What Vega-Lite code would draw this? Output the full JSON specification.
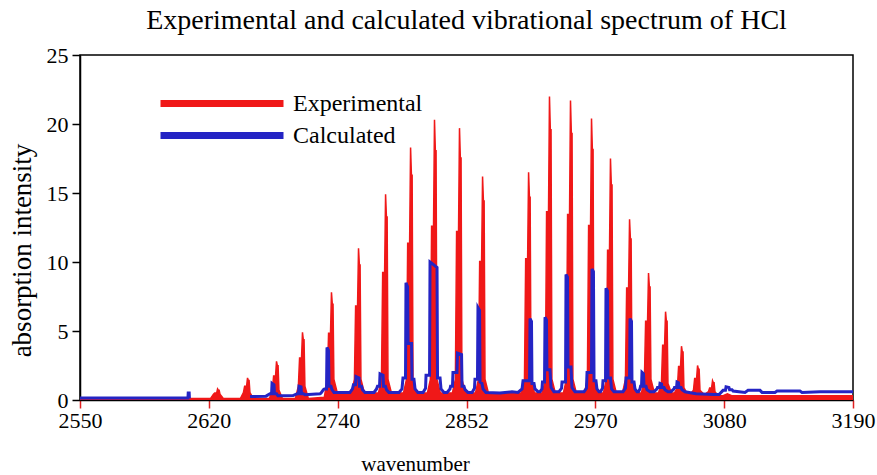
{
"$schema": "https://vega.github.io/schema/vega-lite/v6.json",
"width": 773,
"height": 345,
"autosize": {"type": "none"},
"padding": {"left": 80, "top": 55, "right": 24, "bottom": 75},
"background": "#ffffff",
"title": {"text": "Experimental and calculated vibrational spectrum of HCl", "font": "Liberation Serif", "fontSize": 28, "fontWeight": "normal", "color": "#000000", "anchor": "middle", "frame": "group", "offset": 9},
"config": {
  "font": "Liberation Serif",
  "view": {"stroke": "#000000", "strokeWidth": 1.5},
  "axis": {"grid": false, "labelFont": "Liberation Serif", "titleFont": "Liberation Serif", "labelColor": "#000000", "titleColor": "#000000", "titleFontWeight": "normal", "domainColor": "#000000", "domainWidth": 1.5}
},
"datasets": {
"exp": [
{"x":2550,"y":0.1},{"x":2640,"y":0.1},
{"x":2658.0,"y":0.1},{"x":2660.5,"y":0.42},{"x":2661.5,"y":0.5},{"x":2663.1,"y":0.5},{"x":2663.9,"y":0.8},{"x":2664.6,"y":0.71},{"x":2665.2,"y":0.71},{"x":2665.9,"y":0.42},{"x":2668.8,"y":0.1},
{"x":2682.8,"y":0.1},{"x":2685.3,"y":0.54},{"x":2686.3,"y":0.99},{"x":2687.9,"y":0.99},{"x":2688.7,"y":1.6},{"x":2689.4,"y":1.42},{"x":2690.0,"y":1.42},{"x":2690.7,"y":0.54},{"x":2693.6,"y":0.1},
{"x":2706.8,"y":0.1},{"x":2709.3,"y":0.72},{"x":2710.3,"y":1.74},{"x":2711.9,"y":1.74},{"x":2712.7,"y":2.8},{"x":2713.4,"y":2.49},{"x":2714.0,"y":2.49},{"x":2714.7,"y":0.72},{"x":2717.6,"y":0.1},
{"x":2728.3,"y":0.1},{"x":2730.8,"y":1.0},{"x":2731.8,"y":3.04},{"x":2733.4,"y":3.04},{"x":2734.2,"y":4.9},{"x":2734.9,"y":4.36},{"x":2735.5,"y":4.36},{"x":2736.2,"y":1.0},{"x":2739.1,"y":0.1},
{"x":2752.3,"y":0.2},{"x":2754.8,"y":1.5},{"x":2755.8,"y":4.84},{"x":2757.4,"y":4.84},{"x":2758.2,"y":7.8},{"x":2758.9,"y":6.94},{"x":2759.5,"y":6.94},{"x":2760.2,"y":1.5},{"x":2763.1,"y":0.5},
{"x":2774.7,"y":0.5},{"x":2777.2,"y":1.5},{"x":2778.2,"y":6.82},{"x":2779.8,"y":6.82},{"x":2780.6,"y":11.0},{"x":2781.3,"y":9.79},{"x":2781.9,"y":9.79},{"x":2782.6,"y":1.5},{"x":2785.5,"y":0.5},
{"x":2797.1,"y":0.5},{"x":2799.6,"y":1.5},{"x":2800.6,"y":9.24},{"x":2802.2,"y":9.24},{"x":2803.0,"y":14.9},{"x":2803.7,"y":13.26},{"x":2804.3,"y":13.26},{"x":2805.0,"y":1.5},{"x":2807.9,"y":0.5},
{"x":2817.8,"y":0.5},{"x":2820.3,"y":1.5},{"x":2821.3,"y":11.35},{"x":2822.9,"y":11.35},{"x":2823.7,"y":18.3},{"x":2824.4,"y":16.29},{"x":2825.0,"y":16.29},{"x":2825.7,"y":1.5},{"x":2828.6,"y":0.5},
{"x":2837.6,"y":0.5},{"x":2840.1,"y":1.5},{"x":2841.1,"y":12.59},{"x":2842.7,"y":12.59},{"x":2843.5,"y":20.3},{"x":2844.2,"y":18.07},{"x":2844.8,"y":18.07},{"x":2845.5,"y":1.5},{"x":2848.4,"y":0.5},
{"x":2858.3,"y":0.5},{"x":2860.8,"y":1.5},{"x":2861.8,"y":12.21},{"x":2863.4,"y":12.21},{"x":2864.2,"y":19.7},{"x":2864.9,"y":17.53},{"x":2865.5,"y":17.53},{"x":2866.2,"y":1.5},{"x":2869.1,"y":0.5},
{"x":2877.4,"y":0.5},{"x":2879.9,"y":1.5},{"x":2880.9,"y":10.04},{"x":2882.5,"y":10.04},{"x":2883.3,"y":16.2},{"x":2884.0,"y":14.42},{"x":2884.6,"y":14.42},{"x":2885.3,"y":1.5},{"x":2888.2,"y":0.5},
{"x":2915.5,"y":0.5},{"x":2918.0,"y":1.5},{"x":2919.0,"y":10.23},{"x":2920.6,"y":10.23},{"x":2921.4,"y":16.5},{"x":2922.1,"y":14.69},{"x":2922.7,"y":14.69},{"x":2923.4,"y":1.5},{"x":2926.3,"y":0.5},
{"x":2932.8,"y":0.5},{"x":2935.3,"y":1.5},{"x":2936.3,"y":13.64},{"x":2937.9,"y":13.64},{"x":2938.7,"y":22.0},{"x":2939.4,"y":19.58},{"x":2940.0,"y":19.58},{"x":2940.7,"y":1.5},{"x":2943.6,"y":0.5},
{"x":2950.2,"y":0.5},{"x":2952.7,"y":1.5},{"x":2953.7,"y":13.45},{"x":2955.3,"y":13.45},{"x":2956.1,"y":21.7},{"x":2956.8,"y":19.31},{"x":2957.4,"y":19.31},{"x":2958.1,"y":1.5},{"x":2961.0,"y":0.5},
{"x":2967.6,"y":0.5},{"x":2970.1,"y":1.5},{"x":2971.1,"y":12.65},{"x":2972.7,"y":12.65},{"x":2973.5,"y":20.4},{"x":2974.2,"y":18.16},{"x":2974.8,"y":18.16},{"x":2975.5,"y":1.5},{"x":2978.4,"y":0.5},
{"x":2983.3,"y":0.5},{"x":2985.8,"y":1.5},{"x":2986.8,"y":10.85},{"x":2988.4,"y":10.85},{"x":2989.2,"y":17.5},{"x":2989.9,"y":15.58},{"x":2990.5,"y":15.58},{"x":2991.2,"y":1.5},{"x":2994.1,"y":0.5},
{"x":2999.1,"y":0.5},{"x":3001.6,"y":1.5},{"x":3002.6,"y":8.12},{"x":3004.2,"y":8.12},{"x":3005.0,"y":13.1},{"x":3005.7,"y":11.66},{"x":3006.3,"y":11.66},{"x":3007.0,"y":1.5},{"x":3009.9,"y":0.5},
{"x":3014.8,"y":0.5},{"x":3017.3,"y":1.5},{"x":3018.3,"y":5.7},{"x":3019.9,"y":5.7},{"x":3020.7,"y":9.2},{"x":3021.4,"y":8.19},{"x":3022.0,"y":8.19},{"x":3022.7,"y":1.5},{"x":3025.6,"y":0.5},
{"x":3028.9,"y":0.5},{"x":3031.4,"y":1.2},{"x":3032.4,"y":3.97},{"x":3034.0,"y":3.97},{"x":3034.8,"y":6.4},{"x":3035.5,"y":5.7},{"x":3036.1,"y":5.7},{"x":3036.8,"y":1.2},{"x":3039.7,"y":0.5},
{"x":3042.1,"y":0.5},{"x":3044.6,"y":0.9},{"x":3045.6,"y":2.42},{"x":3047.2,"y":2.42},{"x":3048.0,"y":3.9},{"x":3048.7,"y":3.47},{"x":3049.3,"y":3.47},{"x":3050.0,"y":0.9},{"x":3052.9,"y":0.45},
{"x":3055.4,"y":0.45},{"x":3057.9,"y":0.7},{"x":3058.9,"y":1.55},{"x":3060.5,"y":1.55},{"x":3061.3,"y":2.5},{"x":3062.0,"y":2.23},{"x":3062.6,"y":2.23},{"x":3063.3,"y":0.7},{"x":3066.2,"y":0.45},
{"x":3067.8,"y":0.45},{"x":3070.3,"y":0.6},{"x":3071.3,"y":0.87},{"x":3072.9,"y":0.87},{"x":3073.7,"y":1.4},{"x":3074.4,"y":1.25},{"x":3075.0,"y":1.25},{"x":3075.7,"y":0.6},{"x":3078.6,"y":0.3},
{"x":3082.0,"y":0.3},{"x":3086.0,"y":0.45},{"x":3090.0,"y":0.3},{"x":3190,"y":0.3}
],
"calc": [
{"seg":1,"x":2550,"y":0.15},{"seg":1,"x":2639.4,"y":0.15},{"seg":1,"x":2639.6,"y":0.5},{"seg":1,"x":2640.4,"y":0.5},{"seg":1,"x":2640.6,"y":0.12},
{"seg":2,"x":2690.8,"y":0.25},
{"seg":2,"x":2704.0,"y":0.28},{"seg":2,"x":2707.3,"y":0.45},{"seg":2,"x":2708.6,"y":0.45},{"seg":2,"x":2709.0,"y":1.2},{"seg":2,"x":2710.6,"y":1.1},{"seg":2,"x":2711.0,"y":0.45},{"seg":2,"x":2712.7,"y":0.45},{"seg":2,"x":2713.9,"y":0.3},
{"seg":2,"x":2726.4,"y":0.32},{"seg":2,"x":2729.7,"y":0.45},{"seg":2,"x":2730.9,"y":0.45},{"seg":2,"x":2731.3,"y":1.0},{"seg":2,"x":2733.0,"y":0.95},{"seg":2,"x":2733.4,"y":0.45},{"seg":2,"x":2735.0,"y":0.45},{"seg":2,"x":2736.3,"y":0.38},
{"seg":2,"x":2748.7,"y":0.45},
{"seg":2,"x":2749.5,"y":0.5},{"seg":2,"x":2751.6,"y":0.75},{"seg":2,"x":2752.4,"y":0.8},{"seg":2,"x":2754.1,"y":0.8},{"seg":2,"x":2754.5,"y":3.8},{"seg":2,"x":2755.7,"y":3.6},{"seg":2,"x":2756.2,"y":1.0},{"seg":2,"x":2757.8,"y":1.0},{"seg":2,"x":2758.6,"y":0.75},{"seg":2,"x":2760.3,"y":0.55},
{"seg":2,"x":2773.5,"y":0.55},{"seg":2,"x":2775.6,"y":0.8},{"seg":2,"x":2776.4,"y":1.1},{"seg":2,"x":2778.1,"y":1.1},{"seg":2,"x":2778.5,"y":1.7},{"seg":2,"x":2781.0,"y":1.6},{"seg":2,"x":2781.4,"y":1.0},{"seg":2,"x":2783.1,"y":1.0},{"seg":2,"x":2783.9,"y":0.75},{"seg":2,"x":2786.0,"y":0.55},
{"seg":2,"x":2793.4,"y":0.55},{"seg":2,"x":2795.5,"y":0.8},{"seg":2,"x":2796.3,"y":1.0},{"seg":2,"x":2798.0,"y":1.0},{"seg":2,"x":2798.4,"y":1.9},{"seg":2,"x":2800.9,"y":1.8},{"seg":2,"x":2801.3,"y":1.0},{"seg":2,"x":2802.9,"y":1.0},{"seg":2,"x":2803.8,"y":0.75},{"seg":2,"x":2805.8,"y":0.55},
{"seg":2,"x":2814.1,"y":0.55},{"seg":2,"x":2816.6,"y":0.8},{"seg":2,"x":2817.4,"y":1.6},{"seg":2,"x":2819.5,"y":1.6},{"seg":2,"x":2819.9,"y":8.5},{"seg":2,"x":2821.2,"y":8.2},{"seg":2,"x":2821.6,"y":4.1},{"seg":2,"x":2824.5,"y":4.1},{"seg":2,"x":2824.9,"y":1.5},{"seg":2,"x":2826.5,"y":1.5},{"seg":2,"x":2827.4,"y":0.8},{"seg":2,"x":2829.8,"y":0.55},
{"seg":2,"x":2834.0,"y":0.55},{"seg":2,"x":2836.1,"y":0.85},{"seg":2,"x":2836.5,"y":1.8},{"seg":2,"x":2839.4,"y":1.8},{"seg":2,"x":2839.8,"y":10.0},{"seg":2,"x":2841.4,"y":9.9},{"seg":2,"x":2845.6,"y":9.6},{"seg":2,"x":2846.0,"y":1.6},{"seg":2,"x":2848.1,"y":1.6},{"seg":2,"x":2848.9,"y":0.8},{"seg":2,"x":2851.4,"y":0.55},
{"seg":2,"x":2853.9,"y":0.55},{"seg":2,"x":2856.3,"y":0.8},{"seg":2,"x":2856.8,"y":1.0},{"seg":2,"x":2858.4,"y":1.0},{"seg":2,"x":2858.8,"y":2.0},{"seg":2,"x":2862.1,"y":2.0},{"seg":2,"x":2862.5,"y":3.4},{"seg":2,"x":2865.9,"y":3.3},{"seg":2,"x":2866.3,"y":1.0},{"seg":2,"x":2867.9,"y":1.0},{"seg":2,"x":2868.8,"y":0.75},{"seg":2,"x":2871.2,"y":0.55},
{"seg":2,"x":2874.6,"y":0.55},{"seg":2,"x":2876.6,"y":0.85},{"seg":2,"x":2877.0,"y":1.5},{"seg":2,"x":2879.1,"y":1.5},{"seg":2,"x":2879.5,"y":6.7},{"seg":2,"x":2880.8,"y":6.5},{"seg":2,"x":2881.2,"y":1.3},{"seg":2,"x":2882.8,"y":1.2},{"seg":2,"x":2883.7,"y":0.8},{"seg":2,"x":2886.1,"y":0.55},
{"seg":2,"x":2897.7,"y":0.5},{"seg":2,"x":2907.7,"y":0.6},
{"seg":2,"x":2912.6,"y":0.55},{"seg":2,"x":2916.0,"y":0.8},{"seg":2,"x":2916.8,"y":1.4},{"seg":2,"x":2922.2,"y":1.4},{"seg":2,"x":2922.6,"y":5.9},{"seg":2,"x":2923.8,"y":5.7},{"seg":2,"x":2924.2,"y":1.2},{"seg":2,"x":2925.9,"y":1.2},{"seg":2,"x":2926.7,"y":0.8},{"seg":2,"x":2929.2,"y":0.6},
{"seg":2,"x":2930.9,"y":0.6},{"seg":2,"x":2932.5,"y":0.8},{"seg":2,"x":2932.9,"y":1.3},{"seg":2,"x":2934.6,"y":1.3},{"seg":2,"x":2935.0,"y":6.0},{"seg":2,"x":2936.2,"y":5.8},{"seg":2,"x":2936.6,"y":2.2},{"seg":2,"x":2939.1,"y":2.2},{"seg":2,"x":2940.0,"y":0.9},{"seg":2,"x":2942.4,"y":0.6},
{"seg":2,"x":2946.6,"y":0.6},{"seg":2,"x":2948.7,"y":0.85},{"seg":2,"x":2949.1,"y":1.3},{"seg":2,"x":2952.0,"y":1.3},{"seg":2,"x":2952.4,"y":9.1},{"seg":2,"x":2953.6,"y":8.9},{"seg":2,"x":2954.0,"y":2.4},{"seg":2,"x":2956.5,"y":2.4},{"seg":2,"x":2957.3,"y":0.9},{"seg":2,"x":2959.8,"y":0.6},
{"seg":2,"x":2967.3,"y":0.6},{"seg":2,"x":2969.3,"y":0.85},{"seg":2,"x":2969.8,"y":2.0},{"seg":2,"x":2973.5,"y":2.0},{"seg":2,"x":2973.9,"y":9.5},{"seg":2,"x":2975.1,"y":9.3},{"seg":2,"x":2975.6,"y":1.4},{"seg":2,"x":2977.2,"y":1.4},{"seg":2,"x":2978.0,"y":0.8},{"seg":2,"x":2979.7,"y":0.6},
{"seg":2,"x":2980.9,"y":0.6},{"seg":2,"x":2982.6,"y":0.85},{"seg":2,"x":2983.0,"y":1.4},{"seg":2,"x":2985.1,"y":1.4},{"seg":2,"x":2985.5,"y":8.1},{"seg":2,"x":2986.7,"y":7.9},{"seg":2,"x":2987.2,"y":1.6},{"seg":2,"x":2989.2,"y":1.6},{"seg":2,"x":2990.1,"y":0.8},{"seg":2,"x":2992.1,"y":0.6},
{"seg":2,"x":2999.6,"y":0.6},{"seg":2,"x":3001.6,"y":0.85},{"seg":2,"x":3002.1,"y":1.6},{"seg":2,"x":3005.0,"y":1.6},{"seg":2,"x":3005.4,"y":5.9},{"seg":2,"x":3006.6,"y":5.7},{"seg":2,"x":3007.0,"y":1.3},{"seg":2,"x":3008.7,"y":1.3},{"seg":2,"x":3009.5,"y":0.8},{"seg":2,"x":3011.2,"y":0.6},
{"seg":2,"x":3012.4,"y":0.6},{"seg":2,"x":3013.6,"y":0.8},{"seg":2,"x":3014.1,"y":1.0},{"seg":2,"x":3014.9,"y":1.0},{"seg":2,"x":3015.3,"y":2.0},{"seg":2,"x":3016.5,"y":1.9},{"seg":2,"x":3017.0,"y":1.0},{"seg":2,"x":3018.6,"y":1.0},{"seg":2,"x":3019.4,"y":0.75},{"seg":2,"x":3021.9,"y":0.6},
{"seg":2,"x":3025.2,"y":0.6},{"seg":2,"x":3027.7,"y":0.8},{"seg":2,"x":3028.1,"y":0.9},{"seg":2,"x":3029.8,"y":0.9},{"seg":2,"x":3030.2,"y":1.2},{"seg":2,"x":3031.5,"y":1.15},{"seg":2,"x":3031.9,"y":0.9},{"seg":2,"x":3033.5,"y":0.9},{"seg":2,"x":3034.3,"y":0.75},{"seg":2,"x":3036.8,"y":0.6},
{"seg":2,"x":3039.3,"y":0.6},{"seg":2,"x":3041.8,"y":0.8},{"seg":2,"x":3042.2,"y":0.9},{"seg":2,"x":3043.9,"y":0.9},{"seg":2,"x":3044.3,"y":1.3},{"seg":2,"x":3045.5,"y":1.25},{"seg":2,"x":3045.9,"y":0.9},{"seg":2,"x":3047.6,"y":0.9},{"seg":2,"x":3048.4,"y":0.75},{"seg":2,"x":3050.9,"y":0.6},
{"seg":2,"x":3060.0,"y":0.45},{"seg":2,"x":3075.0,"y":0.4},
{"seg":2,"x":3079.1,"y":0.4},{"seg":2,"x":3082.4,"y":0.7},{"seg":2,"x":3084.4,"y":0.7},{"seg":2,"x":3084.9,"y":0.95},{"seg":2,"x":3087.3,"y":0.9},{"seg":2,"x":3087.8,"y":0.75},{"seg":2,"x":3089.8,"y":0.75},{"seg":2,"x":3090.7,"y":0.65},
{"seg":2,"x":3100.6,"y":0.55},{"seg":2,"x":3103.1,"y":0.7},{"seg":2,"x":3113.0,"y":0.7},{"seg":2,"x":3114.7,"y":0.55},{"seg":2,"x":3125.4,"y":0.55},{"seg":2,"x":3127.1,"y":0.65},{"seg":2,"x":3146.1,"y":0.65},{"seg":2,"x":3147.8,"y":0.55},{"seg":2,"x":3162.7,"y":0.6},{"seg":2,"x":3190,"y":0.6}
]
},
"encoding": {
  "x": {"field": "x", "type": "quantitative", "title": "wavenumber",
        "scale": {"domain": [2550, 3190], "nice": false, "zero": false},
        "axis": {"values": [2550, 2656.6667, 2763.3333, 2870, 2976.6667, 3083.3333, 3190],
                 "labelExpr": "datum.value < 2600 ? '2550' : datum.value < 2700 ? '2620' : datum.value < 2800 ? '2740' : datum.value < 2900 ? '2852' : datum.value < 3000 ? '2970' : datum.value < 3100 ? '3080' : '3190'",
                 "labelFlush": false, "labelOverlap": false, "labelFontSize": 22, "labelPadding": 2,
                 "tickColor": "#e02020", "tickSize": 8, "tickWidth": 1.5,
                 "titleFontSize": 21, "titlePadding": 22, "titleX": 335}},
  "y": {"field": "y", "type": "quantitative", "title": "absorption intensity",
        "scale": {"domain": [0, 25], "nice": false},
        "axis": {"values": [0, 5, 10, 15, 20, 25], "labelFontSize": 22, "labelPadding": 4,
                 "tickColor": "#000000", "tickSize": 8, "tickWidth": 1.5,
                 "titleFontSize": 27, "titlePadding": 10, "titleY": 195}}
},
"layer": [
  {"data": {"name": "exp"},
   "mark": {"type": "area", "fill": "#f01818", "strokeWidth": 1.5, "clip": true},
   "encoding": {
     "stroke": {"datum": "Experimental", "type": "nominal",
        "scale": {"domain": ["Experimental", "Calculated"], "range": ["#f01818", "#2424c4"]},
        "legend": {"title": null, "orient": "none", "legendX": 68.5, "legendY": 36.5,
                   "symbolType": "M0,0H24.6", "symbolSize": 100, "symbolStrokeWidth": 7,
                   "symbolFillColor": "transparent",
                   "labelFontSize": 24, "labelFont": "Liberation Serif", "labelColor": "#000000",
                   "labelOffset": 120.5, "rowPadding": 4, "padding": 0,
                   "encode": {"symbols": {"update": {"strokeCap": {"value": "round"}}}}}}
   }},
  {"data": {"name": "calc"},
   "mark": {"type": "line", "strokeWidth": 3, "clip": true},
   "encoding": {
     "detail": {"field": "seg", "type": "nominal"},
     "stroke": {"datum": "Calculated", "type": "nominal"}
   }}
]
}
